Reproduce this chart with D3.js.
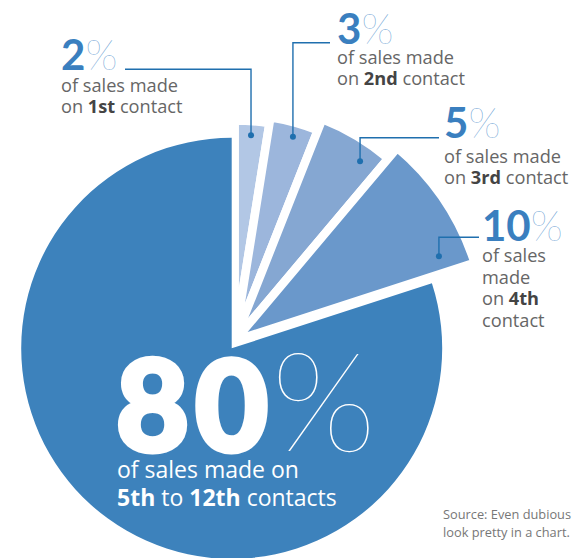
<!DOCTYPE html>
<html>
<head>
<meta charset="utf-8">
<script src="https://cdn.jsdelivr.net/npm/d3@7"></script>
<style>
  body { margin: 0; background: #fff; }
  text { font-family: "Open Sans", Lato, sans-serif; }
  .num { font-family: Lato, "Open Sans", sans-serif; }
</style>
</head>
<body>
<script>
// data
const contacts = ["1st", "2nd", "3rd", "4th", "5th to 12th"];
const shares = [2, 3, 5, 10, 80];
const sliceColors = ["#b2c7e5", "#9cb6dc", "#85a7d2", "#6a98cb", "#3d82bc"];

// label texts, each line is a list of [text, bold]
const labelLines = [
  [[["of sales made", false]], [["on ", false], ["1st", true], [" contact", false]]],
  [[["of sales made", false]], [["on ", false], ["2nd", true], [" contact", false]]],
  [[["of sales made", false]], [["on ", false], ["3rd", true], [" contact", false]]],
  [[["of sales", false]], [["made", false]], [["on ", false], ["4th", true]], [["contact", false]]],
  [[["of sales made on", false]], [["5th", true], [" to ", false], ["12th", true], [" contacts", false]]]
];
const sourceLines = ["Source: Even dubious", "look pretty in a chart."];

// layout
const FRAME_WIDTH = 577
const FRAME_HEIGHT = 558
const BIG_CENTER = [231.7, 348.3]
const BIG_R = 210.5
const SMALL_CENTER = [234.7, 340.7]
const SMALL_R = [216, 222, 234, 248]
const GAP = 8.5
// the small slices are drawn wider than their share (pow scale inside their wedge)
const SMALL_EXPONENT = 0.78

// label placement
const LABEL_POS = [
  {x: 61,  y: 70,  lineY: 92,  step: 21, leaderY: 69.3, leaderX: 125},
  {x: 337, y: 44,  lineY: 64,  step: 21, leaderY: 42.7, leaderX: 330},
  {x: 444, y: 138, lineY: 163, step: 21, leaderY: 137.7, leaderX: 439},
  {x: 482, y: 241, lineY: 262, step: 21.6, leaderY: 237.3, leaderX: 479}
]
const DOT_FRAC = [0.5, 0.55, 0.72, 0.86]
const DOT_INSET = [10, 10, 15, 27]

const svg = d3.select("body")
  .append("svg")
  .attr("width", FRAME_WIDTH)
  .attr("height", FRAME_HEIGHT);

// main pie: the four small shares together, then the 80
const smallTotal = d3.sum(shares.slice(0, 4));
const mainSlices = d3.pie().sort(null)([smallTotal, shares[4]]);
const bigSlice = mainSlices[1];

// small shares split the first wedge
const widthScale = d3.scalePow().exponent(SMALL_EXPONENT).domain([0, 1]).range([0, 1]);
const smallSlices = d3.pie().sort(null)
  .value(d => widthScale(d))
  .startAngle(mainSlices[0].startAngle)
  .endAngle(mainSlices[0].endAngle)(shares.slice(0, 4));

// small slices, white stroke makes the gaps
const smallArc = d3.arc()
  .innerRadius(0)
  .outerRadius(d => SMALL_R[d.index] + GAP / 2);

const small = svg.append("g")
  .attr("transform", "translate(" + SMALL_CENTER[0] + "," + SMALL_CENTER[1] + ")");

small.selectAll("path")
  .data(smallSlices)
  .enter()
  .append("path")
  .attr("d", smallArc)
  .attr("fill", d => sliceColors[d.index])
  .attr("stroke", "#fff")
  .attr("stroke-width", GAP)
  .attr("stroke-linejoin", "miter");

// big slice
const bigArc = d3.arc().innerRadius(0).outerRadius(BIG_R);
svg.append("g")
  .attr("transform", "translate(" + BIG_CENTER[0] + "," + BIG_CENTER[1] + ")")
  .append("path")
  .datum(bigSlice)
  .attr("d", bigArc)
  .attr("fill", sliceColors[4]);

// leaders and dots
const LEADER = "#1f6fae";
smallSlices.forEach((d, i) => {
  const a = d.startAngle + DOT_FRAC[i] * (d.endAngle - d.startAngle);
  const r = SMALL_R[i] - DOT_INSET[i];
  const px = SMALL_CENTER[0] + r * Math.sin(a);
  const py = SMALL_CENTER[1] - r * Math.cos(a);
  const p = LABEL_POS[i];
  svg.append("path")
    .attr("d", "M" + px + "," + py + "V" + p.leaderY + "H" + p.leaderX)
    .attr("fill", "none")
    .attr("stroke", LEADER)
    .attr("stroke-width", 1.4);
  svg.append("circle")
    .attr("cx", px)
    .attr("cy", py)
    .attr("r", 3)
    .attr("fill", LEADER);
});

// writes the lines of a label
function addLines(x, y0, step, lines, size, color, boldColor) {
  lines.forEach((line, j) => {
    const t = svg.append("text")
      .attr("x", x)
      .attr("y", y0 + j * step)
      .attr("font-size", size + "px")
      .attr("fill", color);
    line.forEach(seg => {
      t.append("tspan")
        .attr("font-weight", seg[1] ? 700 : 400)
        .attr("fill", seg[1] ? boldColor : color)
        .text(seg[0]);
    });
  });
}

// small labels
LABEL_POS.forEach((p, i) => {
  const t = svg.append("text")
    .attr("class", "num")
    .attr("x", p.x)
    .attr("y", p.y)
    .attr("font-size", "42px");
  t.append("tspan").attr("font-weight", 700).attr("fill", "#3a7fbf").text(shares[i]);
  t.append("tspan").attr("font-weight", 200).attr("fill", "#4a8ccb").text("%");
  addLines(p.x, p.lineY, p.step, labelLines[i], 18.2, "#666", "#444");
});

// big label
const big = svg.append("text")
  .attr("class", "num")
  .attr("x", 116)
  .attr("y", 451)
  .attr("font-size", "126px")
  .attr("fill", "#fff");
big.append("tspan")
  .attr("font-weight", 900)
  .attr("stroke", "#fff")
  .attr("stroke-width", 5)
  .attr("stroke-linejoin", "round")
  .attr("letter-spacing", "6px")
  .text(shares[4]);
big.append("tspan").attr("font-weight", 100).attr("dx", -3).attr("font-size", "138px").text("%");
addLines(117, 478, 28, labelLines[4], 23, "#fff", "#fff");

// source note
sourceLines.forEach((s, j) => {
  svg.append("text")
    .attr("x", 443)
    .attr("y", 519 + j * 18)
    .attr("font-size", "12.8px")
    .attr("fill", "#777")
    .text(s);
});
</script>
</body>
</html>
